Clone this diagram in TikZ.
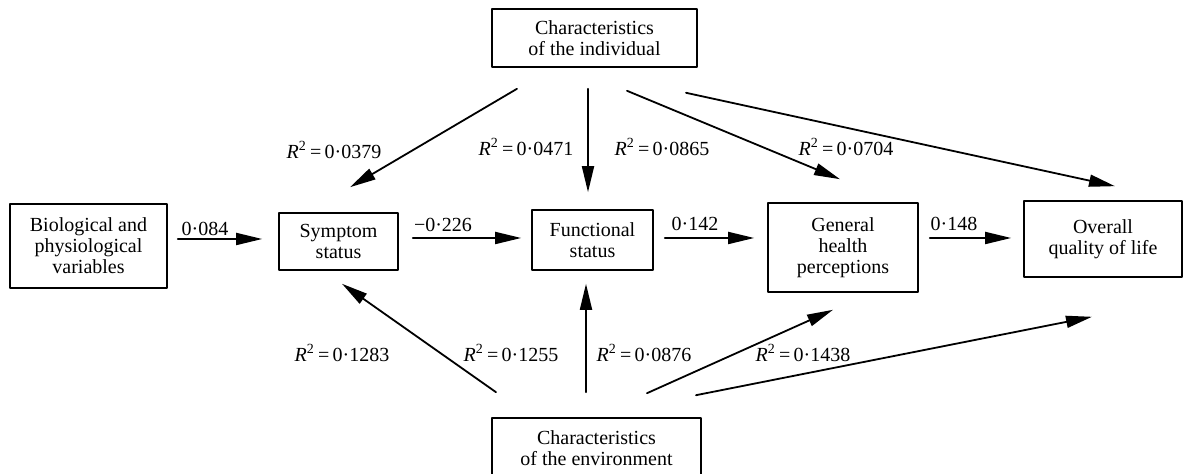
\documentclass[tikz,border=0pt]{standalone}
\usepackage{fontspec}
\setmainfont{Liberation Serif}
\usepackage{tikz}
\usetikzlibrary{arrows.meta}

\tikzset{
  box/.style={draw,line width=0.8pt,align=center,inner sep=0pt,
    font=\fontsize{10}{10.5}\selectfont},
  coef/.style={inner sep=0pt,font=\fontsize{10}{10.5}\selectfont},
  link/.style={line width=0.9pt,-{Triangle[length=13pt,width=6pt]}}
}
\newcommand{\rsq}[1]{\textit{R}\textsuperscript{2}\,=\,#1}

\begin{document}
\begin{tikzpicture}[line cap=round,line join=round,x=0.5pt,y=-0.5pt]
\useasboundingbox (0,0) rectangle (1184,474);
\clip (0,0) rectangle (1184,474);
% boxes
\node[box,minimum width=78.5pt,minimum height=42pt] (bio) at (88.5,246) {Biological and\\physiological\\variables};
\node[box,minimum width=59.5pt,minimum height=28.5pt] (sym) at (338.5,241.5) {Symptom\\status};
\node[box,minimum width=60.5pt,minimum height=30pt] (fun) at (592.5,240) {Functional\\status};
\node[box,minimum width=75pt,minimum height=44.5pt] (gen) at (843,247.5) {General\\health\\perceptions};
\node[box,minimum width=79pt,minimum height=38pt] (qol) at (1103,239) {Overall\\quality of life};
\node[box,minimum width=102.5pt,minimum height=29pt] (ind) at (594.5,38) {Characteristics\\of the individual};
\node[box,minimum width=104.5pt,minimum height=30pt] (env) at (596.5,448) {Characteristics\\of the environment};
% main chain
\draw[link] ([shift={(10,-7)}]bio.east) -- ([shift={(-16,-2.5)}]sym.west);
\draw[link] ([shift={(14,-3.5)}]sym.east) -- ([shift={(-10,-2)}]fun.west);
\draw[link] ([shift={(11,-2)}]fun.east) -- ([shift={(-13,-9.5)}]gen.west);
\draw[link] ([shift={(11,-9.5)}]gen.east) -- ([shift={(-12,-1)}]qol.west);
% individual
\draw[link] ([shift={(-77.5,21)}]ind.south) -- ([shift={(11.5,-25)}]sym.north);
\draw[link] ([shift={(-6.5,21)}]ind.south) -- ([shift={(-4.5,-17)}]fun.north);
\draw[link] ([shift={(32.5,23)}]ind.south) -- ([shift={(-3,-23)}]gen.north);
\draw[link] ([shift={(91.5,25)}]ind.south) -- ([shift={(12,-14)}]qol.north);
% environment
\draw[link] ([shift={(-100.5,-25)}]env.north) -- ([shift={(3.5,13)}]sym.south);
\draw[link] ([shift={(-10.5,-25)}]env.north) -- ([shift={(-6.5,13)}]fun.south);
\draw[link] ([shift={(50.5,-24)}]env.north) -- ([shift={(-10,17)}]gen.south);
\draw[link] ([shift={(99.5,-22)}]env.north) -- ([shift={(-11,39)}]qol.south);
% coefficients
\node[coef] (b1) at (205,229) {0·084};
\node[coef] (b2) at (443,225) {−0·226};
\node[coef] (b3) at (695,224) {0·142};
\node[coef] (b4) at (954,224) {0·148};
\node[coef] (r1) at (334,150) {\rsq{0·0379}};
\node[coef] (r2) at (526,147) {\rsq{0·0471}};
\node[coef] (r3) at (662,147) {\rsq{0·0865}};
\node[coef] (r4) at (846,147) {\rsq{0·0704}};
\node[coef] (r5) at (342,353) {\rsq{0·1283}};
\node[coef] (r6) at (511,353) {\rsq{0·1255}};
\node[coef] (r7) at (644,353) {\rsq{0·0876}};
\node[coef] (r8) at (803,353) {\rsq{0·1438}};
\end{tikzpicture}
\end{document}
